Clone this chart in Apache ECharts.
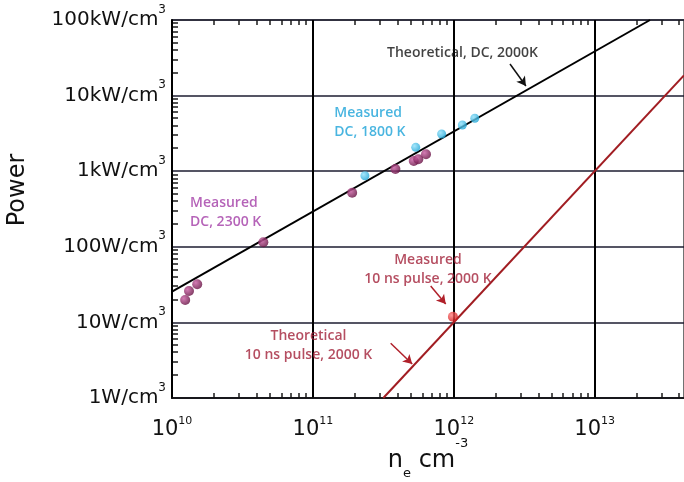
<!DOCTYPE html>
<html><head><meta charset="utf-8">
<script src="https://cdn.jsdelivr.net/npm/echarts@6/dist/echarts.min.js"></script>
<style>html,body{margin:0;padding:0;background:#fff}#c{width:684px;height:482px}</style>
</head><body><div id="c"></div>
<script>
// ---- data (raw values: n_e in cm^-3, power in W/cm^3) ----
const xExponents = [10, 11, 12, 13];
const yTickLabels = ['1W/cm', '10W/cm', '100W/cm', '1kW/cm', '10kW/cm', '100kW/cm'];
const measuredDC2300 = [[1.24e10, 19.8], [1.32e10, 26], [1.51e10, 32], [4.45e10, 115], [1.9e11, 520], [3.85e11, 1070], [5.2e11, 1365], [5.6e11, 1437], [6.35e11, 1674]];
const measuredDC1800 = [[2.34e11, 871], [5.37e11, 2070], [8.2e11, 3105], [1.15e12, 4085], [1.41e12, 5010]];
const measuredPulse = [[9.86e11, 11.9]];
const theoryDC = [[1e10, 25.5], [2.47e13, 1e5]];
const theoryPulse = [[3.16e11, 1], [4.3e13, 18500]];
const annotTexts = ['Theoretical, DC, 2000K', 'Measured\nDC, 1800 K', 'Measured\nDC, 2300 K', 'Measured\n10 ns pulse, 2000 K', 'Theoretical\n10 ns pulse, 2000 K'];
const annotPos = [[1.153e12, 36560], [1.419e11, 4446], [1.343e10, 280], [6.56e11, 50.1], [9.31e10, 4.92]];
const arrowDC = [[2.506e12, 26180], [3.25e12, 13400]];
const arrowPulseMeas = [[6.855e11, 30.3], [8.77e11, 17.5]];
const arrowPulseTheo = [[3.565e11, 5.30], [5.07e11, 2.82]];

// ---- helpers ----
const L = p => [Math.log10(p[0]), Math.log10(p[1])];
const X_MIN = 10, X_MAX = 13.634, Y_MIN = 0, Y_MAX = 5;
const xMinor = [], yMinor = [];
for (let d = 10; d <= 13; d++) for (let k = 2; k <= 9; k++) { const v = d + Math.log10(k); if (v < X_MAX) xMinor.push(v); }
for (let d = 0; d <= 4; d++) for (let k = 2; k <= 9; k++) yMinor.push(d + Math.log10(k));
const FONT = 'DejaVu Sans';
const AFONT = 'Open Sans';

function ball(c0, c1) {
  return { type: 'radial', x: 0.35, y: 0.35, r: 0.75, colorStops: [{ offset: 0, color: c0 }, { offset: 1, color: c1 }] };
}
const annotColors = ['#111111', '#1ba3d8', '#a23ca6', '#a3223a', '#a3223a'];
const annotPosMode = ['inside', 'right', 'right', 'inside', 'inside'];

const chart = echarts.init(document.getElementById('c'), null, { renderer: 'canvas' });
const option = {
  animation: false,
  grid: { left: 172, right: 0, top: 20, bottom: 84, show: true, borderColor: '#444', borderWidth: 1.5, backgroundColor: 'rgba(0,0,0,0)' },
  xAxis: {
    type: 'value', min: X_MIN, max: X_MAX, interval: 1, position: 'bottom',
    axisLine: { show: true, onZero: false, lineStyle: { color: '#111', width: 1.5 } },
    axisTick: { show: false },
    splitLine: { show: true, showMaxLine: false, lineStyle: { color: '#000', width: 2 } },
    axisLabel: {
      margin: 18, showMaxLabel: false,
      formatter: v => Number.isInteger(v) && xExponents.includes(v) ? '{b|10}{s|' + v + '}' : '',
      rich: {
        b: { fontSize: 21, fontFamily: FONT, color: '#111' },
        s: { fontSize: 11, fontFamily: FONT, color: '#111', padding: [0, 0, 16, 0] }
      }
    }
  },
  yAxis: {
    type: 'value', min: Y_MIN, max: Y_MAX, interval: 1, position: 'left',
    axisLine: { show: true, onZero: false, lineStyle: { color: '#000', width: 2 } },
    axisTick: { show: false },
    splitLine: { show: true, lineStyle: { color: '#1c1c30', width: 1.5 } },
    axisLabel: {
      margin: 6, showMinLabel: true, showMaxLabel: true,
      formatter: v => Number.isInteger(v) && yTickLabels[v] ? '{a|' + yTickLabels[v] + '}{s|3}' : '',
      rich: {
        a: { fontSize: 20, fontFamily: FONT, color: '#111' },
        s: { fontSize: 12, fontFamily: FONT, color: '#111', padding: [0, 0, 21, 0] }
      }
    }
  },
  series: [
    {
      name: 'Theoretical DC', type: 'line', data: theoryDC.map(L), symbol: 'none',
      lineStyle: { color: '#000', width: 2 }, z: 3
    },
    {
      name: 'Theoretical pulse', type: 'line', data: theoryPulse.map(L), symbol: 'none',
      lineStyle: { color: '#a11d22', width: 2 }, z: 3
    },
    {
      name: 'Measured DC 2300 K', type: 'scatter', data: measuredDC2300.map(L), symbolSize: 10,
      itemStyle: { color: ball('#c85aa0', '#5c0838') }, z: 5
    },
    {
      name: 'Measured DC 1800 K', type: 'scatter', data: measuredDC1800.map(L), symbolSize: 9,
      itemStyle: { color: ball('#8fe0fa', '#139fd2') }, z: 5
    },
    {
      name: 'Measured pulse', type: 'scatter', data: measuredPulse.map(L), symbolSize: 10,
      itemStyle: { color: ball('#ff7a7a', '#cc0e0e') }, z: 5
    },
    {
      name: 'annotations', type: 'scatter', symbolSize: 0, silent: true, z: 6,
      data: annotPos.map((p, i) => ({
        value: L(p),
        label: {
          show: true, formatter: annotTexts[i], position: annotPosMode[i], distance: 0,
          align: annotPosMode[i] === 'right' ? 'left' : 'center',
          color: annotColors[i], fontFamily: AFONT, fontSize: 14, fontWeight: 600, lineHeight: 19
        }
      })),
      markLine: {
        silent: true, symbol: ['none', 'arrow'], symbolSize: [8, 9], label: { show: false },
        data: [
          [{ coord: L(arrowDC[0]), lineStyle: { color: '#111', width: 1.5, type: 'solid' } }, { coord: L(arrowDC[1]) }],
          [{ coord: L(arrowPulseMeas[0]), lineStyle: { color: '#b0202a', width: 1.5, type: 'solid' } }, { coord: L(arrowPulseMeas[1]) }],
          [{ coord: L(arrowPulseTheo[0]), lineStyle: { color: '#b0202a', width: 1.5, type: 'solid' } }, { coord: L(arrowPulseTheo[1]) }]
        ]
      }
    }
  ]
};
chart.setOption(option);

// minor log ticks placed through the chart's own scales, plus axis titles
const gfx = [];
const px = (x, y) => chart.convertToPixel({ xAxisIndex: 0, yAxisIndex: 0 }, [x, y]);
const topY = px(X_MIN, Y_MAX)[1], botY = px(X_MIN, Y_MIN)[1], leftX = px(X_MIN, Y_MIN)[0];
xMinor.forEach(v => {
  const x = Math.round(px(v, Y_MIN)[0]);
  gfx.push({ type: 'line', shape: { x1: x, y1: botY, x2: x, y2: botY - 5 }, style: { stroke: '#1a1a1a', lineWidth: 1.5 } });
  gfx.push({ type: 'line', shape: { x1: x, y1: topY, x2: x, y2: topY + 5 }, style: { stroke: '#1a1a1a', lineWidth: 1.5 } });
});
yMinor.forEach(v => {
  const y = Math.round(px(X_MIN, v)[1]);
  gfx.push({ type: 'line', shape: { x1: leftX, y1: y, x2: leftX + 6, y2: y }, style: { stroke: '#1a1a1a', lineWidth: 1.5 } });
});
gfx.push({ type: 'text', x: 17.5, y: 190, rotation: Math.PI / 2, style: { text: 'Power', fontSize: 24, fontFamily: FONT, fill: '#111', align: 'center', verticalAlign: 'middle' } });
gfx.push({
  type: 'text', x: 428, y: 461,
  style: {
    text: '{n|n}{e|e}{c| cm}{s|-3}', align: 'center', verticalAlign: 'middle',
    rich: {
      n: { fontSize: 24, fontFamily: FONT, fill: '#111' },
      e: { fontSize: 13, fontFamily: FONT, fill: '#111', padding: [25, 0, 0, 0] },
      c: { fontSize: 24, fontFamily: FONT, fill: '#111' },
      s: { fontSize: 13, fontFamily: FONT, fill: '#111', padding: [0, 0, 35, 0] }
    }
  }
});
chart.setOption({ graphic: gfx });
</script>
</body></html>
